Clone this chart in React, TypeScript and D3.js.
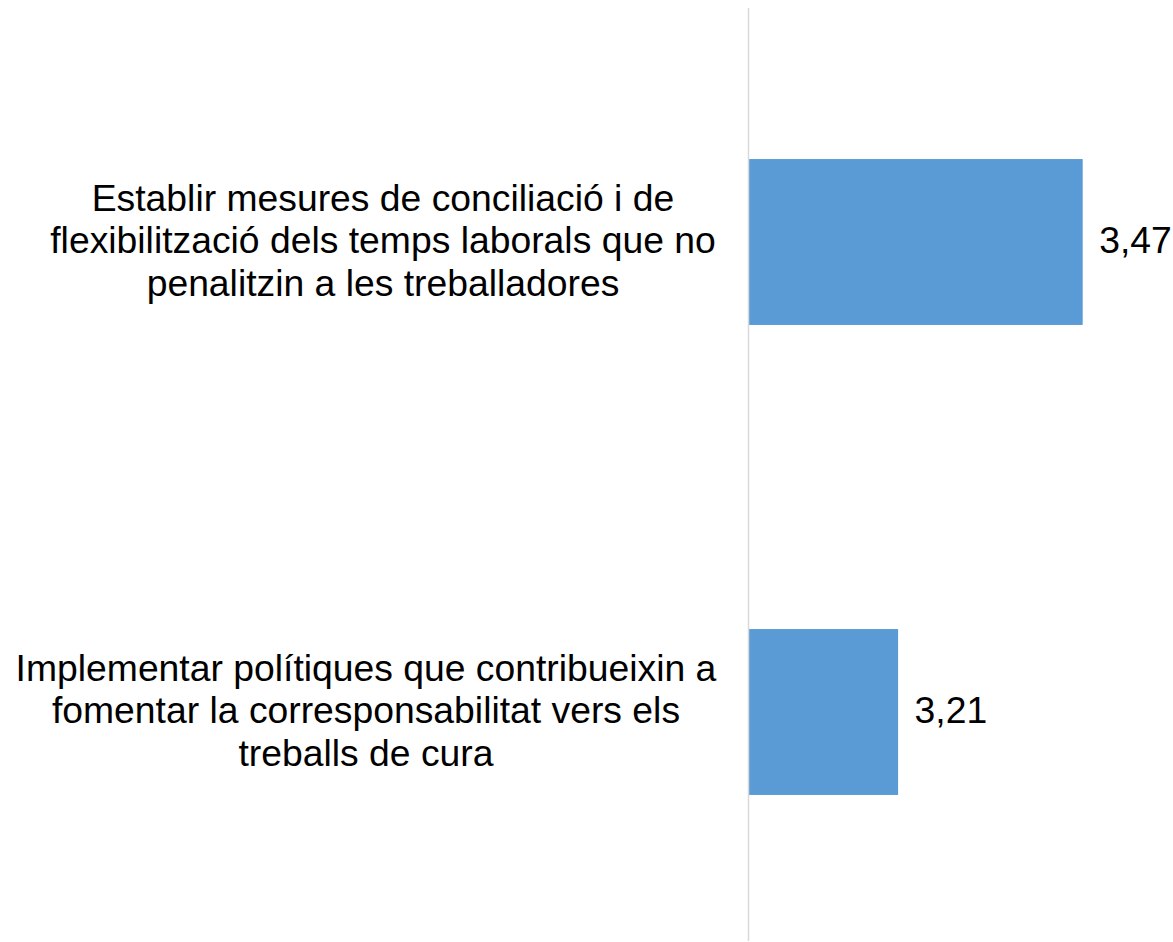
import React from "react";
import * as d3 from "d3";

const categories: string[][] = [
  ["Establir mesures de conciliació i de", "flexibilització dels temps laborals que no", "penalitzin a les treballadores"],
  ["Implementar polítiques que contribueixin a", "fomentar la corresponsabilitat vers els", "treballs de cura"],
];
const values: number[] = [3.47, 3.21];
const valueLabels: string[] = ["3,47", "3,21"];
const labelCenters: number[] = [383, 366];

const W = 1173;
const H = 942;

export default function App() {
  const x = d3.scaleLinear().domain([3, 3.6]).range([749, 749 + 710 * 0.6]);
  const y = d3.scaleBand<number>().domain([0, 1]).range([7, 947]).padding(0);
  const barH = y.bandwidth() * 0.353;
  const fs = 37.3;
  const lh = 42.5;
  const font = "'Liberation Sans', Arial, sans-serif";
  return (
    <svg width={W} height={H} style={{ position: "absolute", left: 0, top: 0, background: "#fff" }}>
      {values.map((v, i) => {
        const cy = (y(i) as number) + y.bandwidth() / 2;
        return (
          <g key={i}>
            <rect x={x(3)} y={cy - barH / 2} width={x(v) - x(3)} height={barH} fill="#5b9bd5" />
            <text x={x(v) + 16.5} y={cy + 10.8} fontFamily={font} fontSize={fs} fill="#000">
              {valueLabels[i]}
            </text>
            <text fontFamily={font} fontSize={fs} fill="#000" textAnchor="middle">
              {categories[i].map((line, j) => (
                <tspan key={j} x={labelCenters[i]} y={cy + 11 + (j - 1) * lh}>
                  {line}
                </tspan>
              ))}
            </text>
          </g>
        );
      })}
      <line x1={748.5} x2={748.5} y1={8} y2={941} stroke="#d9d9d9" strokeWidth={1.5} />
    </svg>
  );
}
